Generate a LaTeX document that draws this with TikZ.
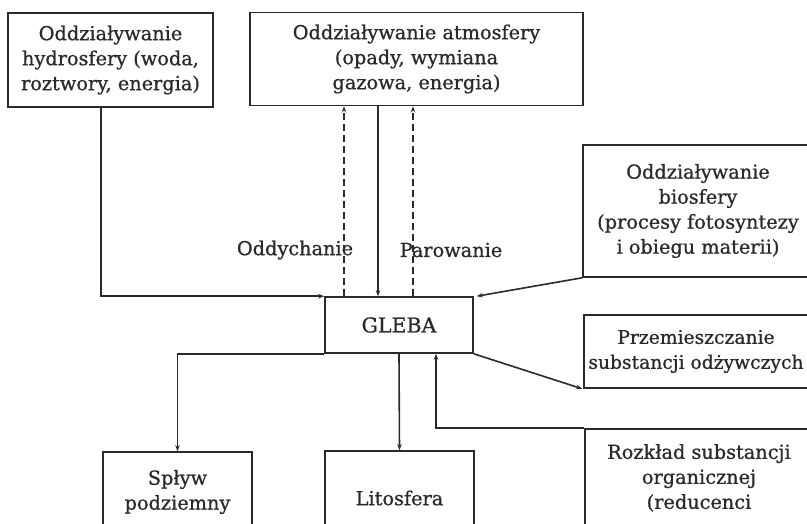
\documentclass[tikz,border=0pt]{standalone}
\usepackage{fontspec}
\setmainfont[FakeBold=0.8]{DejaVu Serif}
\usetikzlibrary{arrows.meta}
\definecolor{ink}{HTML}{2A2A2A}
\tikzset{
  box/.style={draw=ink, line width=1.6pt, text=ink, align=center, inner sep=0pt,
    font=\fontsize{19.3}{25}\selectfont},
  lbl/.style={text=ink, inner sep=0pt, font=\fontsize{19.3}{25}\selectfont},
  conn/.style={draw=ink, line width=1.6pt},
  arr/.style={conn, -{Stealth[length=6pt,width=4.5pt]}},
  dasharr/.style={arr, dash pattern=on 7pt off 4pt}
}
\begin{document}
\begin{tikzpicture}[x=1pt,y=-1pt]
\useasboundingbox (0,0) rectangle (807,524);
\fill[white] (0,0) rectangle (807,524);
% boxes
\node[box, minimum width=205pt, minimum height=94pt] (hydro) at (110.5,60)
  {Oddziaływanie\\hydrosfery (woda,\\roztwory, energia)};
\node[box, minimum width=333pt, minimum height=93pt] (atmo) at (416.5,59)
  {Oddziaływanie atmosfery\\(opady, wymiana\\gazowa, energia)};
\node[box, minimum width=230pt, minimum height=132pt] (bio) at (698,211)
  {Oddziaływanie\\biosfery\\(procesy fotosyntezy\\i obiegu materii)};
\node[box, minimum width=224pt, minimum height=73pt, font=\fontsize{18.7}{25}\selectfont] (przem) at (696,351.5)
  {Przemieszczanie\\substancji odżywczych};
\node[box, minimum width=228pt, minimum height=98pt] (rozk) at (699,478)
  {Rozkład substancji\\organicznej\\(reducenci};
\node[box, minimum width=148pt, minimum height=56pt, font=\fontsize{20.5}{25}\selectfont] (gleba) at (399,325) {GLEBA};
\node[box, minimum width=149pt, minimum height=80pt] (splyw) at (177.5,492)
  {Spływ\\podziemny};
\node[box, minimum width=149pt, minimum height=94pt] (lito) at (399.5,498) {Litosfera};
% labels
\node[lbl] (oddych) at (295,250) {Oddychanie};
\node[lbl] (parow) at (451,250) {Parowanie};
% connectors
\coordinate (hx) at (101,0);
\draw[arr] (hydro.south -| hx) |- (gleba.north west);
\coordinate (ax) at (378,0);
\draw[arr] (atmo.south -| ax) -- (gleba.north -| ax);
\coordinate (ox) at (344,0);
\draw[dasharr] (gleba.north -| ox) -- (atmo.south -| ox);
\coordinate (px) at (413,0);
\draw[dasharr] (gleba.north -| px) -- (atmo.south -| px);
\draw[arr] (bio.south west) -- ([xshift=3pt]gleba.north east);
\draw[arr] (gleba.south east) -- ([xshift=-1pt]przem.south west);
\draw[arr] (gleba.south west) -| (splyw.north);
\draw[arr] (gleba.south) -- (lito.north);
\coordinate (rx) at (436,0);
\draw[arr] (rozk.north west) -| (gleba.south -| rx);
\end{tikzpicture}
\end{document}
